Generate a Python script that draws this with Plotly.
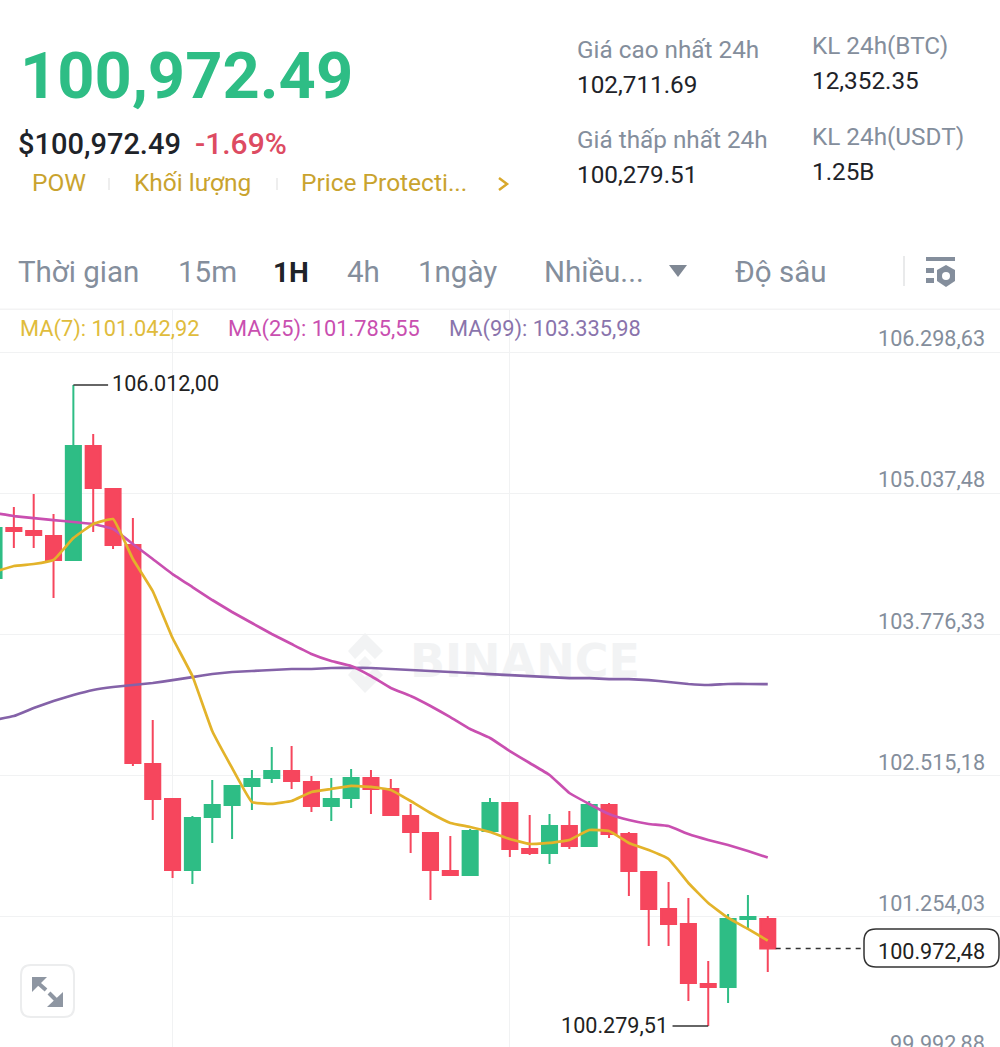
import plotly.graph_objects as go

# BTC/USDT 1H candles
candle_open = [104286, 104733, 104706, 104661, 104447, 105466, 105082, 104581, 102622, 102309,
               101674, 102148, 102256, 102426, 102497, 102560, 102461, 102247, 102318, 102497,
               102399, 102157, 102005, 101665, 101630, 102023, 102274, 101862, 101826, 102068,
               101889, 102256, 101996, 101656, 101325, 101191, 100655, 100628, 101236, 101236]
candle_high = [104751, 104921, 105037, 104858, 106012, 105574, 105082, 104822, 103016, 102318,
               102157, 102479, 102435, 102569, 102774, 102783, 102515, 102497, 102578, 102569,
               102488, 102265, 102014, 101978, 102041, 102318, 102274, 102166, 102175, 102202,
               102291, 102274, 102014, 101665, 101567, 101424, 100860, 101281, 101451, 101263]
candle_low = [104268, 104554, 104554, 104107, 104447, 104697, 104545, 102604, 102121, 101603,
              101549, 101916, 101951, 102211, 102452, 102399, 102193, 102113, 102229, 102175,
              102166, 101826, 101406, 101621, 101630, 102005, 101791, 101808, 101728, 101862,
              101889, 101960, 101442, 100995, 100995, 100503, 100279.51, 100485, 101156, 100762]
candle_close = [104733, 104706, 104670, 104447, 105466, 105091, 104581, 102631, 102309, 101674,
                102139, 102256, 102426, 102488, 102560, 102470, 102247, 102309, 102497, 102399,
                102166, 102014, 101674, 101630, 102023, 102274, 101862, 101826, 102068, 101889,
                102256, 101996, 101665, 101325, 101191, 100664, 100628, 101236, 101254, 100972.48]

ma7 = [104339, 104393, 104411, 104447, 104643, 104769, 104813, 104456, 104169, 103749,
       103409, 102917, 102587, 102282, 102265, 102291, 102372, 102399, 102426, 102417,
       102390, 102291, 102184, 102095, 102059, 102014, 101951, 101907, 101916, 101943,
       102032, 102023, 101916, 101853, 101773, 101558, 101379, 101245, 101147, 101042.92]
ma25 = [104867, 104840, 104822, 104804, 104787, 104769, 104724, 104590, 104456, 104321,
        104205, 104089, 103982, 103883, 103785, 103695, 103606, 103543, 103499, 103409,
        103302, 103230, 103141, 103042, 102935, 102855, 102738, 102631, 102524, 102363,
        102265, 102175, 102121, 102086, 102068, 101996, 101943, 101898, 101844, 101785.55]
ma99 = [103016, 103051, 103123, 103186, 103239, 103284, 103311, 103329, 103347, 103373,
        103400, 103427, 103445, 103454, 103463, 103472, 103472, 103481, 103481, 103481,
        103472, 103463, 103454, 103445, 103436, 103427, 103418, 103409, 103400, 103391,
        103391, 103382, 103382, 103373, 103356, 103338, 103329, 103338, 103338, 103335.98]

y_ticks = [106298.63, 105037.48, 103776.33, 102515.18, 101254.03, 99992.88]
y_tick_labels = ["106.298,63", "105.037,48", "103.776,33", "102.515,18", "101.254,03", "99.992,88"]
x_grid = [9, 26]

GREEN = "#2EBD85"
RED = "#F6465D"
GOLD = "#C9A32E"
GRAY = "#848E9C"
DARK = "#1E2329"
GRID = "#F1F2F3"
FONT = "Roboto"
W, H = 1000, 1047


def px_x(x):
    return x / W


def px_y(y):
    return 1 - y / H


def label(x, y, text, size, color, anchor="left", weight=400):
    return dict(xref="paper", yref="paper", x=px_x(x - 1), y=px_y(y - 1), text=text, showarrow=False,
                xanchor=anchor, yanchor="middle", borderpad=0,
                font=dict(family=FONT, size=size, color=color, weight=weight))


def box(x0, y0, x1, y1, color):
    return dict(type="rect", xref="paper", yref="paper", x0=px_x(x0), x1=px_x(x1), y0=px_y(y0), y1=px_y(y1),
                fillcolor=color, line_width=0, layer="above")


def poly(points, stroke=None, fill=None, width=2, layer="above"):
    path = "M " + " L ".join(f"{px_x(x):.5f},{px_y(y):.5f}" for x, y in points)
    if fill:
        path += " Z"
    return dict(type="path", xref="paper", yref="paper", path=path, fillcolor=fill,
                line=dict(color=stroke or "rgba(0,0,0,0)", width=width), layer=layer)


def round_rect(x0, y0, x1, y1, r, stroke, fill="white", width=1.5):
    path = (f"M {px_x(x0 + r):.5f},{px_y(y0):.5f} L {px_x(x1 - r):.5f},{px_y(y0):.5f} "
            f"Q {px_x(x1):.5f},{px_y(y0):.5f} {px_x(x1):.5f},{px_y(y0 + r):.5f} "
            f"L {px_x(x1):.5f},{px_y(y1 - r):.5f} Q {px_x(x1):.5f},{px_y(y1):.5f} {px_x(x1 - r):.5f},{px_y(y1):.5f} "
            f"L {px_x(x0 + r):.5f},{px_y(y1):.5f} Q {px_x(x0):.5f},{px_y(y1):.5f} {px_x(x0):.5f},{px_y(y1 - r):.5f} "
            f"L {px_x(x0):.5f},{px_y(y0 + r):.5f} Q {px_x(x0):.5f},{px_y(y0):.5f} {px_x(x0 + r):.5f},{px_y(y0):.5f} Z")
    return dict(type="path", xref="paper", yref="paper", path=path, fillcolor=fill,
                line=dict(color=stroke, width=width), layer="above")


xs = list(range(len(candle_open)))

fig = go.Figure()
fig.add_trace(go.Candlestick(
    x=xs, open=candle_open, high=candle_high, low=candle_low, close=candle_close,
    increasing=dict(line=dict(color=GREEN, width=2), fillcolor=GREEN),
    decreasing=dict(line=dict(color=RED, width=2), fillcolor=RED),
    showlegend=False,
))
# watermark is a text trace so the MA lines pass over it
fig.add_trace(go.Scatter(x=[26.76], y=[103500], mode="text", text=["BINANCE"], showlegend=False,
                         textposition="middle center",
                         textfont=dict(family="DejaVu Sans", size=46, color="#F2F3F4", weight=700)))
for values, color in [(ma99, "#8462A8"), (ma25, "#C94FB0"), (ma7, "#E3B32A")]:
    fig.add_trace(go.Scatter(x=xs, y=values, mode="lines", showlegend=False,
                             line=dict(color=color, width=2.7, shape="spline", smoothing=0.3)))

annotations = [
    label(20, 77, "100,972.49", 65, GREEN, weight=700),
    label(18, 145, "$100,972.49", 29, DARK, weight=500),
    label(195, 145, "-1.69%", 30, "#DD4B62", weight=500),
    label(32, 184, "POW", 24.5, GOLD),
    label(134, 184, "Khối lượng", 24.5, GOLD),
    label(301, 184, "Price Protecti...", 24.5, GOLD),
    label(577, 51, "Giá cao nhất 24h", 24.3, GRAY),
    label(577, 85, "102,711.69", 24.3, DARK),
    label(577, 140, "Giá thấp nhất 24h", 24.3, GRAY),
    label(577, 175, "100,279.51", 24.3, DARK),
    label(812, 47, "KL 24h(BTC)", 24.3, GRAY),
    label(812, 82, "12,352.35", 24.3, DARK),
    label(812, 137, "KL 24h(USDT)", 24.3, GRAY),
    label(812, 172, "1.25B", 24.3, DARK),
    label(18, 273, "Thời gian", 29.5, GRAY),
    label(178, 273, "15m", 29.5, GRAY),
    label(273, 273, "1H", 28, DARK, weight=700),
    label(347, 273, "4h", 29.5, GRAY),
    label(418, 273, "1ngày", 29.5, GRAY),
    label(544, 273, "Nhiều...", 29.5, GRAY),
    label(735, 273, "Độ sâu", 29.5, GRAY),
    label(20, 330, "MA(7): 101.042,92", 21.8, "#E0BC3C"),
    label(228, 330, "MA(25): 101.785,55", 21.8, "#C94FB0"),
    label(449, 330, "MA(99): 103.335,98", 21.8, "#8A74AC"),
    label(112, 384, "106.012,00", 21.6, "#222222"),
    label(561, 1026, "100.279,51", 21.6, "#222222"),
    label(932, 952, "100.972,48", 21.6, "#222222", anchor="center"),
]
# axis labels sit just above their gridlines, on the right edge
for tick, text in zip(y_ticks, y_tick_labels):
    annotations.append(dict(xref="paper", yref="y", x=px_x(986), y=tick + 125, text=text, showarrow=False,
                            xanchor="right", yanchor="middle", borderpad=0,
                            font=dict(family=FONT, size=21.6, color=GRAY)))

shapes = [
    # header separators
    box(108, 178, 110, 190, "#EEEEEE"),
    box(276, 178, 278, 190, "#EEEEEE"),
    poly([(499, 178), (507, 184), (499, 190)], stroke="#D9A82B", width=2.5),
    # tab bar icons
    poly([(669, 265), (687, 265), (678, 277)], fill="#7F8894"),
    box(903, 256, 905, 286, "#E9EAEB"),
    box(926, 257, 955, 261, GRAY),
    box(926, 268, 934, 273, GRAY),
    box(926, 278, 934, 283, GRAY),
    poly([(946, 265), (955, 270), (955, 281), (946, 287), (937, 281), (937, 270)], fill=GRAY),
    dict(type="circle", xref="paper", yref="paper", x0=px_x(942), x1=px_x(950), y0=px_y(272), y1=px_y(280),
         fillcolor="white", line_width=0, layer="above"),
    # header / chart divider
    box(0, 308.5, 1000, 310, "#F3F3F4"),
    # watermark logo
    poly([(365, 633), (383, 651), (375, 659), (365, 649), (355, 659), (348, 651)], fill="#F2F3F4", layer="below"),
    poly([(365, 693), (383, 675), (375, 667), (365, 677), (355, 667), (348, 675)], fill="#F2F3F4", layer="below"),
    poly([(365, 656), (372, 663), (365, 670), (358, 663)], fill="#F2F3F4", layer="below"),
    # high and low callouts
    dict(type="line", xref="x", yref="y", x0=4, x1=5.75, y0=106012, y1=106012, line=dict(color="#333333", width=1.5)),
    dict(type="line", xref="x", yref="y", x0=34.2, x1=36, y0=100279.51, y1=100279.51, line=dict(color="#333333", width=1.5)),
    # last price
    dict(type="line", xref="x", yref="y", x0=39.4, x1=43.8, y0=100972.48, y1=100972.48,
         line=dict(color="#333333", width=1.5, dash="5px,5px")),
    round_rect(864, 929, 999, 967, 12, "#333333"),
    # expand button
    round_rect(21, 965, 74, 1017, 10, "#ECEDEE", width=2),
    poly([(32, 977), (47, 977), (32, 992)], fill="#8E96A2"),
    poly([(63, 1007), (47, 1007), (63, 992)], fill="#8E96A2"),
    poly([(38, 983), (46, 990)], stroke="#8E96A2", width=4),
    poly([(49, 993), (57, 1001)], stroke="#8E96A2", width=4),
]

fig.update_layout(
    width=W, height=H, margin=dict(l=0, r=0, t=0, b=0),
    paper_bgcolor="white", plot_bgcolor="white",
    boxgap=0.24, boxgroupgap=0,
    xaxis=dict(range=[0.302, 50.706], tickmode="array", tickvals=x_grid, showticklabels=False,
               showgrid=True, gridcolor=GRID, gridwidth=1, zeroline=False, showline=False,
               rangeslider=dict(visible=False), ticks=""),
    yaxis=dict(domain=[0, 738 / 1047], range=[100091, 106692], tickmode="array", tickvals=y_ticks,
               showticklabels=False, showgrid=True, gridcolor=GRID, gridwidth=1, zeroline=False,
               showline=False, ticks=""),
    annotations=annotations,
    shapes=shapes,
)

fig.write_html("out.html", config=dict(displayModeBar=False), post_script="document.body.style.margin='0';")
